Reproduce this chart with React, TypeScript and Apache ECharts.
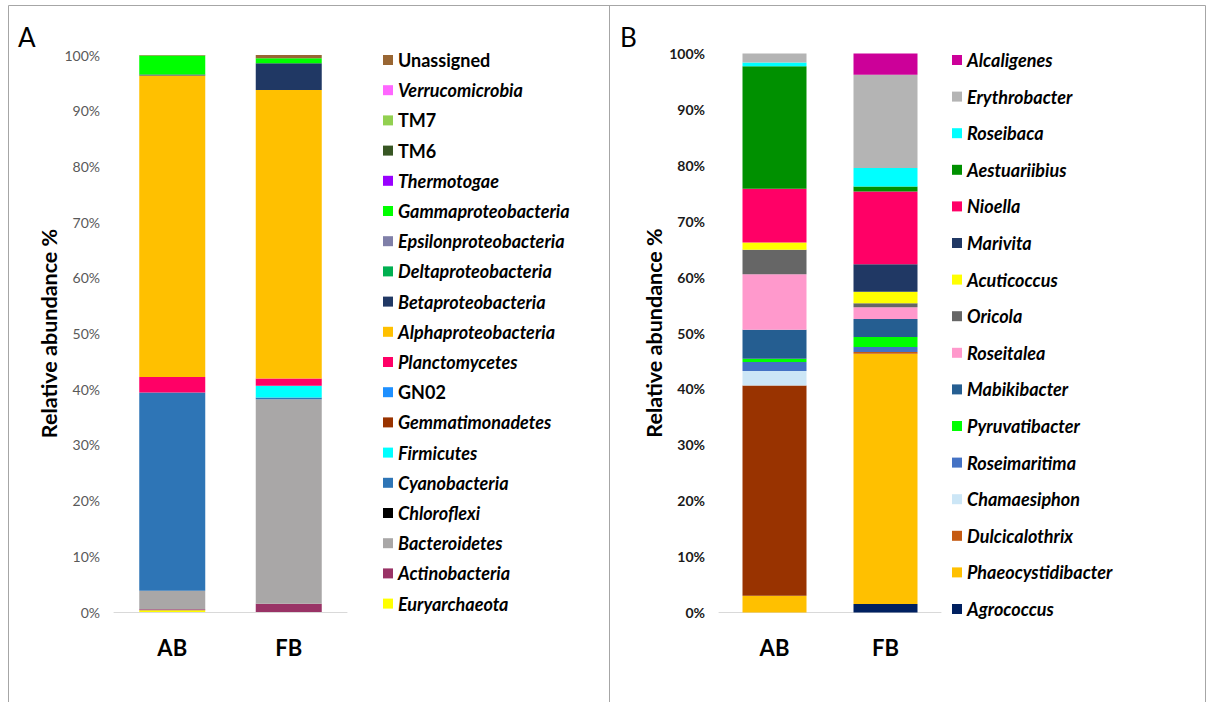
import React, { useEffect, useRef } from "react";
import * as echarts from "echarts";

const categories = ["AB", "FB"];

// Panel A (phyla), stacking order bottom -> top
const phylaA = [
  "Euryarchaeota", "Actinobacteria", "Bacteroidetes", "Chloroflexi", "Cyanobacteria",
  "Firmicutes", "Gemmatimonadetes", "GN02", "Planctomycetes", "Alphaproteobacteria",
  "Betaproteobacteria", "Deltaproteobacteria", "Epsilonproteobacteria", "Gammaproteobacteria",
  "Thermotogae", "TM6", "TM7", "Verrucomicrobia", "Unassigned",
];
const abA = [0.3, 0.2, 3.3, 0, 35.6, 0, 0, 0, 2.8, 54.1, 0.2, 0, 0, 3.4, 0, 0, 0, 0, 0.1];
const fbA = [0, 1.5, 36.7, 0, 0.3, 2.1, 0, 0, 1.3, 51.8, 4.8, 0, 0, 0.9, 0, 0, 0, 0, 0.6];
const colorsA = [
  "#FFFF00", "#993366", "#A9A7A7", "#000000", "#2E75B6",
  "#00FFFF", "#993300", "#1E90FF", "#FF0066", "#FFC000",
  "#203864", "#00B050", "#7F7FA8", "#00FF00",
  "#9900FF", "#375623", "#92D050", "#FF66FF", "#996633",
];

// Panel B (genera), stacking order bottom -> top
const generaB = [
  "Agrococcus", "Phaeocystidibacter", "Dulcicalothrix", "Chamaesiphon", "Roseimaritima",
  "Pyruvatibacter", "Mabikibacter", "Roseitalea", "Oricola", "Acuticoccus",
  "Marivita", "Nioella", "Aestuariibius", "Roseibaca", "Erythrobacter", "Alcaligenes",
];
const abB = [0, 3.0, 37.6, 2.6, 1.6, 0.6, 5.2, 9.9, 4.4, 1.3, 0, 9.6, 21.9, 0.7, 1.6, 0];
const fbB = [1.5, 44.8, 0.3, 0, 0.9, 1.8, 3.2, 2.1, 0.7, 2.1, 4.9, 13.0, 0.9, 3.3, 16.7, 3.8];
const colorsB = [
  "#002060", "#FFC000", "#C55A11", "#CCE6F6", "#4472C4",
  "#00FF00", "#255E91", "#FF99CC", "#666666", "#FFFF00",
  "#203864", "#FF0066", "#009000", "#00FFFF", "#B4B4B4", "#CC0099",
];
const abDulciColor = "#993300";

const nonItalic = ["Unassigned", "TM7", "TM6", "GN02"];

const FONT = "Lato, 'Open Sans', sans-serif";

export default function App() {
  const ref = useRef<HTMLDivElement>(null);

  useEffect(() => {
    if (!ref.current) return;
    const chart = echarts.init(ref.current, null, { renderer: "svg" });

    const seriesA = phylaA.map((name, i) => ({
      name,
      type: "bar",
      stack: "A",
      xAxisIndex: 0,
      yAxisIndex: 0,
      barWidth: 66,
      itemStyle: { color: colorsA[i] },
      data: [abA[i], fbA[i]],
    }));
    const seriesB = generaB.map((name, i) => ({
      name,
      type: "bar",
      stack: "B",
      xAxisIndex: 1,
      yAxisIndex: 1,
      barWidth: 64,
      itemStyle: { color: colorsB[i] },
      data: [
        name === "Dulcicalothrix" ? { value: abB[i], itemStyle: { color: abDulciColor } } : abB[i],
        fbB[i],
      ],
    }));

    const legendText = (name: string) => ({
      name,
      textStyle: {
        fontStyle: nonItalic.includes(name) ? "normal" : "italic",
      },
    });

    const xAxisCommon = {
      type: "category",
      data: categories,
      axisLine: { lineStyle: { color: "#D9D9D9", width: 1 } },
      axisTick: { show: false },
      axisLabel: { fontSize: 22, fontWeight: "bold", color: "#000", fontFamily: FONT, margin: 24 },
    };

    const yAxisCommon = (bold: boolean, color: string, margin: number) => ({
      type: "value",
      min: 0,
      max: 100,
      interval: 10,
      axisLine: { show: false },
      axisTick: { show: false },
      splitLine: { show: false },
      axisLabel: {
        formatter: "{value}%",
        fontSize: 14,
        fontWeight: bold ? "bold" : "normal",
        color,
        fontFamily: FONT,
        margin,
      },
      name: "Relative abundance %",
      nameLocation: "middle",
      nameRotate: 90,
      nameGap: 54,
      nameTextStyle: { fontSize: 21.5, fontWeight: "bold", color: "#000", fontFamily: FONT },
    });

    const legendTextStyle = {
      fontSize: 18,
      fontWeight: "bold",
      color: "#000",
      fontFamily: FONT,
      lineHeight: 18,
    };

    chart.setOption({
      animation: false,
      backgroundColor: "#fff",
      grid: [
        { left: 114, top: 55, width: 233, height: 557 },
        { left: 719, top: 53.5, width: 222, height: 559 },
      ],
      xAxis: [
        { ...xAxisCommon, gridIndex: 0 },
        { ...xAxisCommon, gridIndex: 1 },
      ],
      yAxis: [
        { ...yAxisCommon(false, "#595959", 14), gridIndex: 0 },
        { ...yAxisCommon(true, "#1a1a1a", 14), gridIndex: 1 },
      ],
      legend: [
        {
          orient: "vertical",
          left: 378,
          top: 46,
          itemWidth: 10,
          itemHeight: 10,
          itemGap: 12.2,
          icon: "rect",
          textStyle: legendTextStyle,
          data: phylaA.slice().reverse().map(legendText),
          selectedMode: false,
        },
        {
          orient: "vertical",
          left: 947,
          top: 46,
          itemWidth: 10,
          itemHeight: 10,
          itemGap: 18.6,
          icon: "rect",
          textStyle: legendTextStyle,
          data: generaB
            .slice()
            .reverse()
            .map((name) => ({
              ...legendText(name),
              ...(name === "Dulcicalothrix" ? { itemStyle: { color: "#C55A11" } } : {}),
            })),
          selectedMode: false,
        },
      ],
      graphic: [
        { type: "line", shape: { x1: 8.5, y1: 5.5, x2: 1205.5, y2: 5.5 }, style: { stroke: "#A6A6A6", lineWidth: 1 } },
        { type: "line", shape: { x1: 8.5, y1: 5.5, x2: 8.5, y2: 702 }, style: { stroke: "#A6A6A6", lineWidth: 1 } },
        { type: "line", shape: { x1: 609.5, y1: 5.5, x2: 609.5, y2: 702 }, style: { stroke: "#A6A6A6", lineWidth: 1 } },
        { type: "line", shape: { x1: 1205.5, y1: 5.5, x2: 1205.5, y2: 702 }, style: { stroke: "#A6A6A6", lineWidth: 1 } },
        { type: "text", left: 18, top: 24, style: { text: "A", fontSize: 26, fill: "#000", fontFamily: FONT } },
        { type: "text", left: 620, top: 24, style: { text: "B", fontSize: 26, fill: "#000", fontFamily: FONT } },
      ],
      series: [...seriesA, ...seriesB],
    });

    return () => chart.dispose();
  }, []);

  return (
    <div
      ref={ref}
      style={{ position: "fixed", left: 0, top: 0, width: 1208, height: 702, background: "#fff" }}
    />
  );
}
